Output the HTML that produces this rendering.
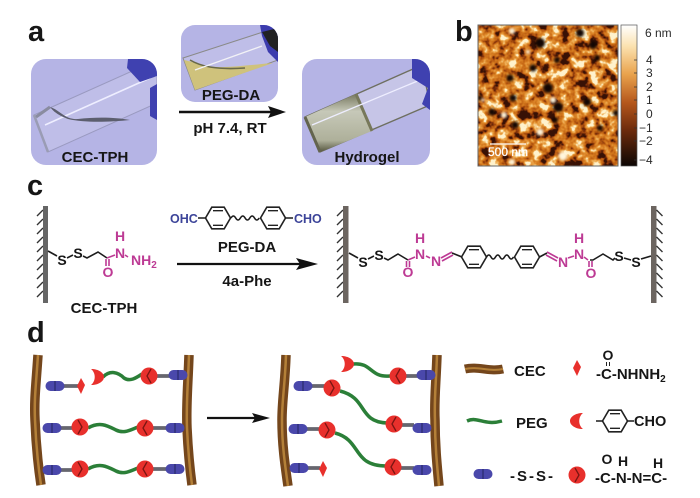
<!DOCTYPE html>
<html><head><meta charset="utf-8"><style>
html,body{margin:0;padding:0;background:#fff}
svg{display:block}
text{font-family:"Liberation Sans",sans-serif;font-weight:bold;fill:#161616;stroke:currentColor;stroke-width:0}
.m{fill:#bd3a94}.b{fill:#3c4499}
.bond{stroke:#1c1c1c;stroke-width:1.6;fill:none}
.mb{stroke:#bd3a94;stroke-width:1.6;fill:none}
.t{font-weight:normal;fill:#2a2a2a}
</style></head><body>
<svg width="700" height="498" viewBox="0 0 700 498" xmlns="http://www.w3.org/2000/svg" color-interpolation-filters="sRGB">
<defs>
<clipPath id="c1"><rect x="31" y="59" width="126" height="106" rx="15"/></clipPath>
<clipPath id="c2"><rect x="181" y="25" width="97" height="77" rx="14"/></clipPath>
<clipPath id="c3"><rect x="302" y="59" width="128" height="106" rx="15"/></clipPath>
<clipPath id="af"><rect x="478" y="25" width="140" height="141"/></clipPath>
<linearGradient id="cb" x1="0" y1="0" x2="0" y2="1">
<stop offset="0" stop-color="#fff"/><stop offset=".15" stop-color="#fbe2b0"/><stop offset=".35" stop-color="#e9a24c"/><stop offset=".55" stop-color="#b5571c"/><stop offset=".75" stop-color="#6b2a0c"/><stop offset="1" stop-color="#0c0603"/>
</linearGradient>
<linearGradient id="gel" x1="0" y1="0" x2="0" y2="1"><stop offset="0" stop-color="#77785f"/><stop offset=".3" stop-color="#c6c8b8"/><stop offset=".8" stop-color="#aeb09a"/><stop offset="1" stop-color="#55563f"/></linearGradient>
<filter id="n" x="0" y="0" width="100%" height="100%" color-interpolation-filters="sRGB">
<feTurbulence type="fractalNoise" baseFrequency="0.1" numOctaves="3" seed="7"/>
<feColorMatrix values="2.6 0 0 0 -0.8 2.6 0 0 0 -0.8 2.6 0 0 0 -0.8 0 0 0 0 1"/>
<feComponentTransfer>
<feFuncR type="table" tableValues="0.22 0.52 0.73 0.82 0.88 0.94 1"/>
<feFuncG type="table" tableValues="0.07 0.2 0.36 0.46 0.55 0.7 0.95"/>
<feFuncB type="table" tableValues="0.02 0.04 0.07 0.11 0.18 0.36 0.8"/>
</feComponentTransfer>
</filter>
<filter id="bl" x="-50%" y="-50%" width="200%" height="200%" color-interpolation-filters="sRGB"><feGaussianBlur stdDeviation="1.4"/></filter>
<filter id="s" x="0" y="0" width="100%" height="100%" color-interpolation-filters="sRGB"><feGaussianBlur stdDeviation="0.3"/></filter>
<path id="hash" d="M0 4l-6 6M0 13l-6 6M0 22l-6 6M0 31l-6 6M0 40l-6 6M0 49l-6 6M0 58l-6 6M0 67l-6 6M0 76l-6 6M0 85l-6 6" stroke="#333" stroke-width="1.4" fill="none"/>
<g id="hex" fill="none" stroke="#222" stroke-width="1.6">
<path d="M-12.5 0L-6.2 -10.8H6.2L12.5 0L6.2 10.8H-6.2Z"/>
<path d="M-5 -7.3H5M-5 7.3H5" stroke-width="1.4"/>
</g>
<g id="pill"><rect x="-9.5" y="-5" width="19" height="10" rx="5" fill="#4a48ab"/><path d="M0 -5V5" stroke="#23235f" stroke-width="1"/></g>
<g id="cr"><circle r="8.5" fill="#e8302c"/><path d="M-2 -7L2 0L-2 7" stroke="#7a1512" stroke-width="1.3" fill="none"/></g>
<g id="cl"><circle r="8.5" fill="#e8302c"/><path d="M2 -7L-2 0L2 7" stroke="#7a1512" stroke-width="1.3" fill="none"/></g>
<path id="dia" d="M0 -8L4 -1L0 8L-4 0Z" fill="#e8302c"/>
<path id="cup" d="M-6 -8C2 -8 7 -4 7 0C7 4 2 8 -6 8C-1 4 -1 -4 -6 -8Z" fill="#e8302c"/>
</defs>
<rect width="700" height="498" fill="#fff"/>
<g filter="url(#s)">
<!-- Panel a -->
<text x="28" y="41" font-size="29">a</text>
<g clip-path="url(#c1)">
<rect x="31" y="59" width="126" height="106" fill="#b5b4e5"/>
<path d="M34 115L130 72L157 72V103L48 152Z" fill="#bfbee8" stroke="#9a9ac0" stroke-width="1"/>
<path d="M34 115L48 152" stroke="#9a9cb4" stroke-width="2.5"/>
<path d="M45 125L150 78" stroke="#eef" stroke-width="1.6"/>
<path d="M50 107C60 110 65 120 78 119C95 117 115 117 130 120C110 122 85 123 68 119C58 115 54 112 50 107Z" fill="#5c5e6e"/>
<path d="M36 117L50 107" stroke="#8a8ca0" stroke-width="3"/>
<path d="M128 59H157V76L140 82L127 68Z" fill="#3f41b0"/>
<path d="M150 88L157 84V120L150 116Z" fill="#3f41b0"/>
</g>
<text x="95" y="162" font-size="15" text-anchor="middle">CEC-TPH</text>

<g clip-path="url(#c2)">
<rect x="181" y="25" width="97" height="77" fill="#b5b4e5"/>
<path d="M183 58L263 32L278 60L195 90Z" fill="#bfbee8" stroke="#8a8a88" stroke-width="1"/>
<path d="M184 60C195 62 205 68 225 67C245 66 260 64 273 63L195 90Z" fill="#cfc27c"/>
<path d="M190 60C200 66 215 70 245 68" stroke="#6a6a48" stroke-width="1.6" fill="none"/>
<path d="M195 70L262 46" stroke="#f2f2f6" stroke-width="1.3"/>
<path d="M260 25H278V62L268 52L262 36Z" fill="#3c3cae"/>
<path d="M262 32L278 28V52L270 46Z" fill="#222"/>
</g>
<text x="231" y="100" font-size="15" text-anchor="middle">PEG-DA</text>

<path d="M179 112H272" stroke="#111" stroke-width="2.4"/>
<path d="M286 112L268 106L271 112L268 118Z" fill="#111"/>
<text x="230" y="133" font-size="15" text-anchor="middle">pH 7.4, RT</text>

<g clip-path="url(#c3)">
<rect x="302" y="59" width="128" height="106" fill="#b5b4e5"/>
<path d="M305 117L422 65L430 105L320 152Z" fill="#c6c5e7" stroke="#6e6f60" stroke-width="1.4"/>
<path d="M305 117L356 94L372 131L320 152Z" fill="url(#gel)"/>
<path d="M356 94L372 131" stroke="#77785a" stroke-width="3"/>
<path d="M312 125L420 80" stroke="#eef" stroke-width="1.3"/>
<path d="M305 117L320 152" stroke="#63644e" stroke-width="3"/>
<path d="M412 59H430V110L422 104L428 88L412 78Z" fill="#3f41b0"/>
</g>
<text x="367" y="162" font-size="15" text-anchor="middle">Hydrogel</text>

<!-- Panel b -->
<text x="455" y="41" font-size="29">b</text>
<g clip-path="url(#af)">
<rect x="478" y="25" width="140" height="141" filter="url(#n)"/>
<g fill="#120603" filter="url(#bl)">
<circle cx="580" cy="33" r="4"/><circle cx="540" cy="43" r="5"/><circle cx="593" cy="45" r="4"/><circle cx="510" cy="78" r="3.5"/><circle cx="533" cy="68" r="3.5"/><circle cx="548" cy="88" r="5"/><circle cx="513" cy="98" r="3.5"/><circle cx="558" cy="107" r="5"/><circle cx="587" cy="102" r="4"/><circle cx="557" cy="60" r="3"/><circle cx="515" cy="125" r="3.5"/><circle cx="492" cy="112" r="3.5"/><circle cx="597" cy="58" r="3"/><circle cx="616" cy="113" r="3"/><circle cx="480" cy="98" r="2.5"/><circle cx="555" cy="120" r="3"/><circle cx="600" cy="128" r="3"/>
</g>
<g fill="#fff6dc" filter="url(#bl)">
<circle cx="512" cy="31" r="3"/><circle cx="563" cy="156" r="4.5"/><circle cx="540" cy="132" r="3.5"/><circle cx="553" cy="100" r="3"/><circle cx="504" cy="115" r="3"/><circle cx="512" cy="162" r="3"/><circle cx="483" cy="100" r="1.6"/><circle cx="528" cy="52" r="2"/>
</g>
</g>
<rect x="478" y="25" width="140" height="141" fill="none" stroke="#666" stroke-width="1"/>
<path d="M490 144H526" stroke="#fff" stroke-width="1.3"/>
<text x="488" y="156" font-size="12" style="fill:#fff;font-weight:normal;stroke:#fff;stroke-width:.3">500 nm</text>
<rect x="621" y="25" width="16" height="141" fill="url(#cb)" stroke="#555" stroke-width=".7"/>
<path d="M634 60h3M634 73h3M634 87h3M634 100h3M634 114h3M634 128h3M634 141h3M634 160h3" stroke="#333" stroke-width=".8"/>
<g font-size="12">
<text x="645" y="37" class="t">6 nm</text>
<text x="646" y="64" class="t">4</text>
<text x="646" y="77" class="t">3</text>
<text x="646" y="91" class="t">2</text>
<text x="646" y="104" class="t">1</text>
<text x="646" y="118" class="t">0</text>
<text x="639" y="132" class="t">−1</text>
<text x="639" y="145" class="t">−2</text>
<text x="639" y="164" class="t">−4</text>
</g>

<!-- Panel c -->
<text x="27" y="195" font-size="29">c</text>
<use href="#hash" x="43" y="206"/>
<rect x="43" y="206" width="5" height="97" fill="#666"/>
<path class="bond" d="M48 251L57 256M67 258L73 255"/>
<text x="62" y="265" font-size="14" text-anchor="middle">S</text>
<text x="78" y="258" font-size="14" text-anchor="middle">S</text>
<path class="bond" d="M83 256L87 258L98 252L107 258"/>
<path class="mb" d="M107 258L115 255M106 259V266M109 259V266M125 255L128 257"/>
<text x="120" y="258" font-size="14" text-anchor="middle" class="m">N</text>
<text x="120" y="241" font-size="14" text-anchor="middle" class="m">H</text>
<text x="131" y="265" font-size="14" class="m">NH<tspan font-size="10" dy="3">2</tspan></text>
<text x="108" y="277" font-size="14" text-anchor="middle" class="m">O</text>
<text x="104" y="313" font-size="15" text-anchor="middle">CEC-TPH</text>

<use href="#hex" x="218" y="218"/><use href="#hex" x="273" y="218"/>
<path class="bond" d="M231 218q2.400 -4 4.700 0t4.700 0t4.700 0t4.700 0t4.700 0t4.700 0"/>
<path class="bond" d="M198 218H205.500M285.500 218H293"/>
<text x="170" y="223" font-size="12.500" class="b">OHC</text>
<text x="294" y="223" font-size="12.500" class="b">CHO</text>
<text x="247" y="252" font-size="15" text-anchor="middle">PEG-DA</text>
<path d="M177 264H305" stroke="#111" stroke-width="2.200"/>
<path d="M318 264L296 258L300 264L296 270Z" fill="#111"/>
<text x="247" y="286" font-size="15" text-anchor="middle">4a-Phe</text>

<use href="#hash" x="343" y="206"/>
<rect x="343" y="206" width="5.500" height="97" fill="#6c6560"/>
<rect x="651" y="206" width="5.500" height="97" fill="#6c6560"/>
<use href="#hash" transform="translate(656.500,206) scale(-1,1)"/>

<path class="bond" d="M349 253L358 258M368 259L374 256M384 258L388 260L398 254L408 260"/>
<text x="363" y="267" font-size="14" text-anchor="middle">S</text>
<text x="379" y="260" font-size="14" text-anchor="middle">S</text>
<path class="mb" d="M408 260L415 257M406.500 261V267M409.500 261V267M426 256L430 258M441 258L452 252M442 261L453 255"/>
<text x="420" y="259" font-size="14" text-anchor="middle" class="m">N</text>
<text x="420" y="243" font-size="14" text-anchor="middle" class="m">H</text>
<text x="436" y="266" font-size="14" text-anchor="middle" class="m">N</text>
<text x="408" y="277" font-size="14" text-anchor="middle" class="m">O</text>
<path class="bond" d="M452 253L462 257"/>
<use href="#hex" x="474" y="257"/><use href="#hex" x="527" y="257"/>
<path class="bond" d="M486.500 257q2.300 -4 4.500 0t4.500 0t4.500 0t4.500 0t4.500 0t4.500 0"/>
<path class="bond" d="M539.500 257L547 253"/>
<path class="mb" d="M547 252L558 258M546 255L557 261M568 258L574 256M584 257L588 260M589 261V267M592 261V267"/>
<text x="563" y="267" font-size="14" text-anchor="middle" class="m">N</text>
<text x="579" y="259" font-size="14" text-anchor="middle" class="m">N</text>
<text x="579" y="243" font-size="14" text-anchor="middle" class="m">H</text>
<text x="591" y="278" font-size="14" text-anchor="middle" class="m">O</text>
<path class="bond" d="M590 260L593 260L603 254L613 260L615 258M624 258L631 260M641 259L651 256"/>
<text x="619" y="261" font-size="14" text-anchor="middle">S</text>
<text x="636" y="267" font-size="14" text-anchor="middle">S</text>

<!-- Panel d -->
<text x="27" y="342" font-size="29">d</text>
<g fill="none">
<path d="M38 355C36 385 34 400 35 420C36 445 38 465 41 485" stroke="#74461c" stroke-width="9.500"/>
<path d="M38 355C36 385 34 400 35 420C36 445 38 465 41 485" stroke="#b48038" stroke-width="2.500"/>
<path d="M189 355C188 385 186 405 187 428C188 450 190 470 192 485" stroke="#74461c" stroke-width="9.500"/>
<path d="M189 355C188 385 186 405 187 428C188 450 190 470 192 485" stroke="#b48038" stroke-width="2.500"/>
<path d="M286 355C285 385 282 400 282 420C282 445 285 465 288 486" stroke="#74461c" stroke-width="9.500"/>
<path d="M286 355C285 385 282 400 282 420C282 445 285 465 288 486" stroke="#b48038" stroke-width="2.500"/>
<path d="M437 355C436 385 434 400 435 420C435 445 437 465 439 486" stroke="#74461c" stroke-width="9.500"/>
<path d="M437 355C436 385 434 400 435 420C435 445 437 465 439 486" stroke="#b48038" stroke-width="2.500"/>
<path d="M465 369C478 366 490 372 503 369" stroke="#74461c" stroke-width="9"/>
<path d="M465 369C478 366 490 372 503 369" stroke="#b48038" stroke-width="2"/>
</g>
<g stroke="#66666e" stroke-width="3.800" fill="none">
<path d="M62 386H79M155 376H172M60 428H75M152 428H168M60 470H75M152 469H168"/>
<path d="M312 386H326M405 376H418M402 425H414M305 429H320M400 468H414M305 468H320"/>
</g>
<g stroke="#2b7f38" stroke-width="3.500" fill="none">
<path d="M103 377C110 370 118 372 124 378C130 382 136 378 142 374"/>
<path d="M88 428C100 421 108 426 116 430C124 434 130 430 138 427"/>
<path d="M88 469C100 462 108 467 116 471C124 475 130 471 138 468"/>
<path d="M353 364C372 362 370 378 390 376"/>
<path d="M340 391C368 398 358 422 387 423"/>
<path d="M335 433C362 440 352 466 386 466"/>
<path d="M467 421C478 416 484 426 502 421"/>
</g>
<use href="#pill" x="55" y="386"/><use href="#dia" x="81" y="386"/><use href="#cup" x="97" y="377"/><use href="#cl" x="149" y="376"/><use href="#pill" x="178" y="375"/>
<use href="#pill" x="52" y="428"/><use href="#cr" x="80" y="427"/><use href="#cl" x="145" y="428"/><use href="#pill" x="175" y="428"/>
<use href="#pill" x="52" y="470"/><use href="#cr" x="80" y="469"/><use href="#cl" x="145" y="469"/><use href="#pill" x="175" y="469"/>

<path d="M207 418H258" stroke="#111" stroke-width="2.200"/>
<path d="M270 418L252 413L255 418L252 423Z" fill="#111"/>

<use href="#cup" x="347" y="364"/><use href="#cl" x="398" y="376"/><use href="#pill" x="426" y="375"/>
<use href="#pill" x="303" y="386"/><use href="#cr" x="332" y="388"/><use href="#cl" x="394" y="424"/><use href="#pill" x="422" y="428"/>
<use href="#pill" x="298" y="429"/><use href="#cr" x="327" y="430"/><use href="#cl" x="393" y="467"/><use href="#pill" x="422" y="470"/>
<use href="#pill" x="299" y="468"/><use href="#dia" x="323" y="469"/>

<!-- Legend -->
<text x="514" y="376" font-size="15">CEC</text>
<text x="516" y="428" font-size="15">PEG</text>
<text x="510" y="481" font-size="15" letter-spacing="2">-S-S-</text>
<use href="#dia" x="577" y="368"/><use href="#cup" transform="translate(577,421) scale(-1,1)"/>
<use href="#pill" x="483" y="474"/><use href="#cr" x="577" y="475"/>
<text x="608" y="360" font-size="14" text-anchor="middle">O</text>
<path d="M606.500 362V366M609.500 362V366" stroke="#222" stroke-width="1"/>
<text x="596" y="379" font-size="15">-C-NHNH<tspan font-size="10" dy="3">2</tspan></text>
<use href="#hex" x="615" y="421"/>
<path class="bond" d="M596 421H602.500M627.500 421H634"/>
<text x="634" y="426" font-size="14.500">CHO</text>
<text x="607" y="464" font-size="14" text-anchor="middle">O</text>
<text x="623" y="466" font-size="14" text-anchor="middle">H</text>
<text x="658" y="468" font-size="14" text-anchor="middle">H</text>
<text x="595" y="483" font-size="15">-C-N-N=C-</text>
</g>
</svg>
</body></html>
